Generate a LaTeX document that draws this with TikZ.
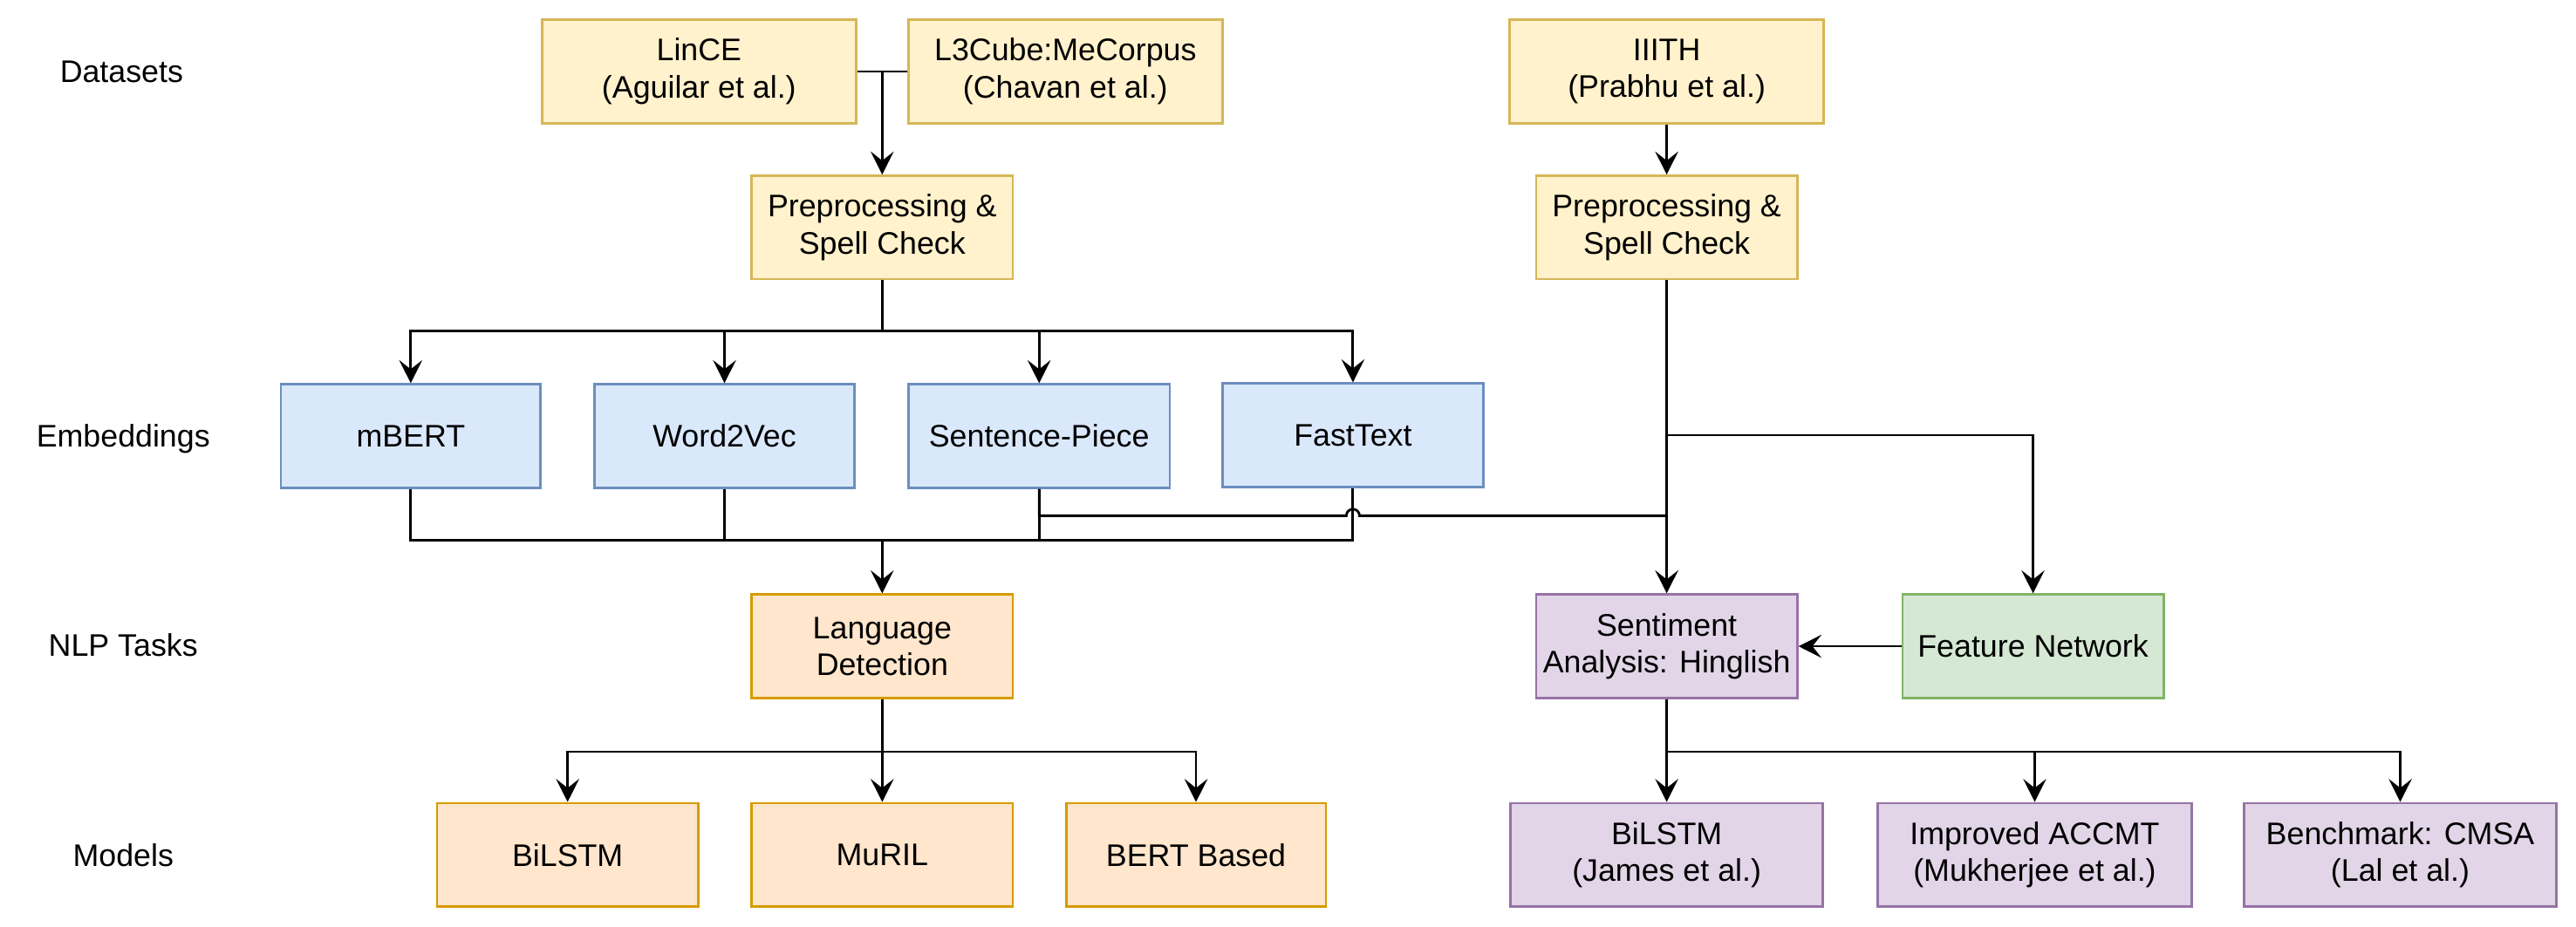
\documentclass[tikz,border=0pt]{standalone}
\usepackage{fontspec}
\setmainfont{Liberation Sans}
\usetikzlibrary{arrows.meta,calc}
\definecolor{yfill}{HTML}{FFF2CC}\definecolor{ydraw}{HTML}{D6B656}
\definecolor{bfill}{HTML}{DAE8FC}\definecolor{bdraw}{HTML}{6C8EBF}
\definecolor{ofill}{HTML}{FFE6CC}\definecolor{odraw}{HTML}{D79B00}
\definecolor{pfill}{HTML}{E1D5E7}\definecolor{pdraw}{HTML}{9673A6}
\definecolor{gfill}{HTML}{D5E8D4}\definecolor{gdraw}{HTML}{82B366}
\tikzset{
  box/.style={draw, line width=1.4pt, minimum height=63pt, inner sep=0pt, align=center,
    font=\fontsize{19}{22.5}\selectfont},
  ybox/.style={box, fill=yfill, draw=ydraw},
  bbox/.style={box, fill=bfill, draw=bdraw},
  obox/.style={box, fill=ofill, draw=odraw},
  pbox/.style={box, fill=pfill, draw=pdraw},
  gbox/.style={box, fill=gfill, draw=gdraw},
  lbl/.style={font=\fontsize{19}{22.5}\selectfont, inner sep=0pt},
  line/.style={draw, line width=1.5pt},
  arr/.style={line, -{Stealth[length=14pt,width=14pt,inset=5.5pt]}},
}
\begin{document}
\begin{tikzpicture}[x=1pt,y=-1pt]
\useasboundingbox (0,0) rectangle (1568,564);
% row labels
\node[lbl] (lds) at (74,44) {Datasets};
\node[lbl] (lem) at (75,267) {Embeddings};
\node[lbl] (lnl) at (75,393) {NLP Tasks};
\node[lbl] (lmo) at (75,521) {Models};
% datasets
\node[ybox, minimum width=191pt] (lince) at (425.5,43.5) {LinCE\\(Aguilar et al.)};
\node[ybox, minimum width=191pt] (l3) at (648.5,43.5) {L3Cube:MeCorpus\\(Chavan et al.)};
\node[ybox, minimum width=191pt] (iiith) at (1014.5,43.5) {IIITH\\(Prabhu et al.)};
% preprocessing
\node[ybox, minimum width=159pt] (pre1) at (537,138.5) {Preprocessing \&\\Spell Check};
\node[ybox, minimum width=159pt] (pre2) at (1014.5,138.5) {Preprocessing \&\\Spell Check};
% embeddings
\node[bbox, minimum width=158pt] (mbert) at (250,265.5) {mBERT};
\node[bbox, minimum width=158pt] (w2v) at (441,265.5) {Word2Vec};
\node[bbox, minimum width=159pt] (sp) at (632.5,265.5) {Sentence-Piece};
\node[bbox, minimum width=159pt] (ft) at (823.5,265) {FastText};
% tasks
\node[obox, minimum width=159pt] (ld) at (537,393.5) {Language\\Detection};
\node[pbox, minimum width=159pt] (sa) at (1014.5,393.5) {Sentiment\\Analysis: Hinglish};
\node[gbox, minimum width=159pt] (fn) at (1237.5,393.5) {Feature Network};
% models
\node[obox, minimum width=159pt] (m1) at (345.5,520.5) {BiLSTM};
\node[obox, minimum width=159pt] (m2) at (537,520.5) {MuRIL};
\node[obox, minimum width=158pt] (m3) at (728,520.5) {BERT Based};
\node[pbox, minimum width=190pt] (m4) at (1014.5,520.5) {BiLSTM\\(James et al.)};
\node[pbox, minimum width=191pt] (m5) at (1238.5,520.5) {Improved ACCMT\\(Mukherjee et al.)};
\node[pbox, minimum width=190pt] (m6) at (1461,520.5) {Benchmark: CMSA\\(Lal et al.)};
% connectors: datasets
\draw[line] (lince.east) -- (l3.west);
\coordinate (j1) at (pre1.north |- lince.east);
\draw[arr] (j1) -- (pre1.north);
\draw[arr] (iiith.south) -- (pre2.north);
% preprocessing to embeddings
\draw[arr] (pre1.south) -- ++(0,31) -| (mbert.north);
\draw[arr] (pre1.south) -- ++(0,31) -| (w2v.north);
\draw[arr] (pre1.south) -- ++(0,31) -| (sp.north);
\draw[arr] (pre1.south) -- ++(0,31) -| (ft.north);
% embeddings to language detection
\coordinate (e1) at (537,329);
\draw[line] (mbert.south) |- (e1);
\draw[line] (w2v.south) |- (e1);
\draw[line] (sp.south) |- (e1);
\draw[line] (ft.south) |- (e1);
\draw[arr] (e1) -- (ld.north);
% sentence-piece to sentiment (with hop)
\coordinate (h1) at (1014.5,314);
\draw[line] (sp.south) |- ($(ft.south |- h1)+(-4pt,0)$)
  arc[start angle=180,end angle=0,radius=4pt] -- (h1);
% preprocessing 2 to sentiment and feature network
\draw[arr] (pre2.south) -- (sa.north);
\coordinate (f1) at (1014.5,265);
\draw[arr] (f1) -| (fn.north);
\draw[arr] (fn.west) -- (sa.east);
% tasks to models
\draw[arr] (ld.south) -- ++(0,32) -| (m1.north);
\draw[arr] (ld.south) -- ++(0,32) -| (m2.north);
\draw[arr] (ld.south) -- ++(0,32) -| (m3.north);
\draw[arr] (sa.south) -- ++(0,32) -| (m4.north);
\draw[arr] (sa.south) -- ++(0,32) -| (m5.north);
\draw[arr] (sa.south) -- ++(0,32) -| (m6.north);
\end{tikzpicture}
\end{document}
